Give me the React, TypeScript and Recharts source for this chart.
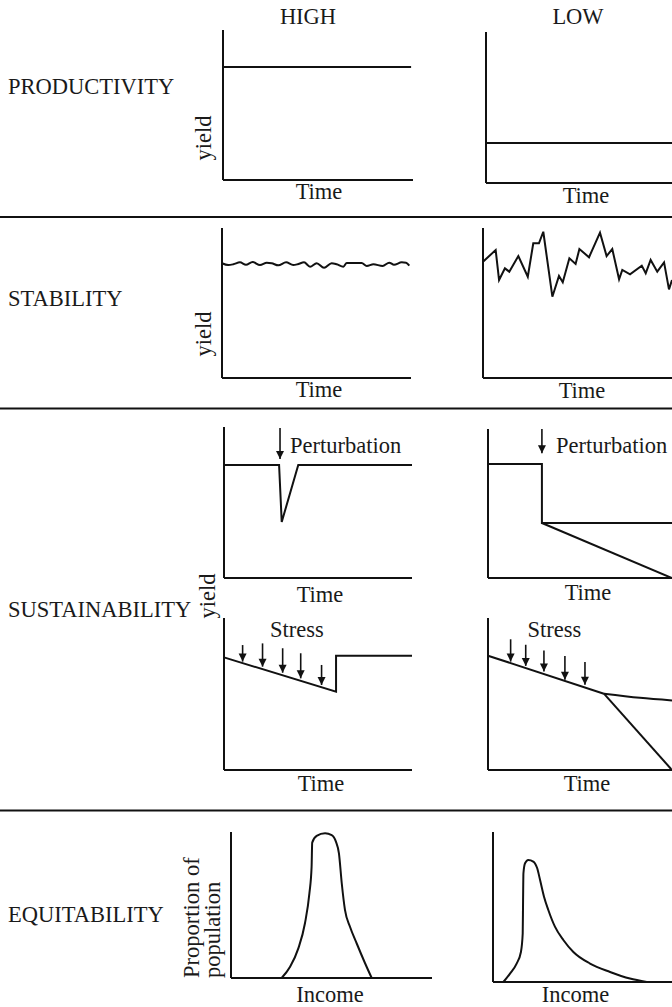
import React from 'react';
import { LineChart, Line, XAxis, YAxis } from 'recharts';

const INK = '#111';
const FONT = '"Liberation Serif", "DejaVu Serif", serif';
const FS = 22.5;

// PRODUCTIVITY
const prodHighT = [0, 99];
const prodHighY = [75.3, 75.3];
const prodLowT = [0, 100];
const prodLowY = [26.5, 26.5];

// STABILITY
const stabHighT = [0, 3.3, 6.0, 9.5, 12.7, 16.2, 20.1, 23.7, 26.3, 29.8, 33.9, 37.7, 40.4, 43.4, 46.6, 50.1, 54.0, 58.0, 60.7, 64.2, 66.0, 73.9, 76.6, 80.1, 85.0, 88.5, 91.0, 95.1, 97.4, 99.1];
const stabHighY = [76.5, 75.3, 75.8, 77.1, 75.5, 77.3, 75.3, 76.9, 76.5, 75.1, 77.1, 75.3, 76.0, 77.1, 74.2, 76.5, 73.5, 76.5, 75.8, 74.2, 76.7, 76.7, 74.7, 75.8, 74.7, 76.9, 75.5, 77.1, 76.9, 74.9];
const stabLowT = [0, 6.7, 8.5, 11.6, 13.9, 18.7, 23.7, 26.6, 29.6, 31.9, 36.7, 40.2, 42.2, 45.7, 49.0, 51.0, 56.1, 61.9, 65.4, 68.4, 72.0, 73.7, 77.8, 84.0, 86.1, 88.7, 92.2, 95.8, 98.4, 100];
const stabLowY = [77.5, 85.3, 65.3, 73.1, 70.9, 81.3, 67.5, 89.8, 89.8, 97.5, 54.2, 68.0, 63.8, 79.8, 76.0, 86.0, 80.5, 96.9, 81.3, 86.0, 65.8, 72.0, 69.1, 74.9, 69.8, 78.7, 70.9, 77.1, 59.1, 65.3];

// SUSTAINABILITY - perturbation
const pertHighT = [0, 29.3, 30.7, 39.5, 100];
const pertHighY = [74.8, 74.8, 37.1, 74.8, 74.8];
const pertHighArrowT = [29.8];
const pertHighArrowFrom = [99.3];
const pertHighArrowTo = [78.8];

const pertLowT = [0, 29.3, 29.3, 100];
const pertLowY = [76.5, 76.5, 36.9, 36.9];
const pertLowDeclineT = [29.3, 100];
const pertLowDeclineY = [36.9, 0];
const pertLowArrowT = [29.3];
const pertLowArrowFrom = [100];
const pertLowArrowTo = [83.7];

// SUSTAINABILITY - stress
const stressHighT = [0, 59.6, 59.6, 100];
const stressHighY = [74.1, 51.5, 75.2, 75.2];
const stressHighArrowT = [9.9, 20.5, 31.2, 40.8, 51.9];
const stressHighArrowFrom = [82.2, 83.3, 80.1, 76.8, 69.1];
const stressHighArrowTo = [71.3, 68.0, 64.0, 60.3, 55.9];

const stressLowT = [0, 63.0];
const stressLowY = [75.2, 50.2];
const stressLowRecoverT = [63.0, 82.6, 100];
const stressLowRecoverY = [50.2, 47.5, 45.8];
const stressLowCollapseT = [63.0, 100];
const stressLowCollapseY = [50.2, 0];
const stressLowArrowT = [12.3, 20.5, 30.4, 41.8, 52.7];
const stressLowArrowFrom = [86.0, 82.4, 78.7, 75.0, 71.0];
const stressLowArrowTo = [71.3, 68.5, 64.8, 59.3, 56.1];

// EQUITABILITY (income distribution)
const equiHighIncome = [25.2, 29.4, 33.5, 36.8, 39.0, 40.1, 40.4, 42.6, 46.8, 50.1, 52.2, 53.7, 55.1, 56.7, 59.2, 62.5, 66.7, 70.0];
const equiHighShare = [0, 7.7, 20.3, 37.5, 58.0, 76.2, 92.7, 97.3, 99.1, 97.9, 93.4, 85.4, 64.9, 46.6, 35.1, 23.8, 10.1, 0];
const equiLowIncome = [5.8, 9.5, 13.2, 15.6, 16.6, 16.8, 17.0, 17.9, 19.7, 22.5, 24.7, 26.3, 28.5, 30.9, 34.6, 39.3, 44.9, 54.2, 65.4, 76.5, 85.9];
const equiLowShare = [0, 5.6, 12.3, 20.0, 32.3, 54.6, 72.5, 79.2, 81.4, 80.3, 75.8, 68.0, 56.9, 48.0, 36.9, 28.0, 20.0, 12.3, 6.7, 2.3, 0];

type Pt = { t: number; y: number };
type Curve = 'linear' | 'monotone';

const zip = (t: number[], y: number[]): Pt[] => t.map((v, i) => ({ t: v, y: y[i] }));
const arrows = (t: number[], from: number[], to: number[]) =>
  t.map((v, i) => [{ t: v, y: from[i] }, { t: v, y: to[i] }]);

const axisLine = { stroke: INK, strokeWidth: 2 };

function Panel({ box, series, arrowList = [] }: {
  box: [number, number, number, number];
  series: { data: Pt[]; curve?: Curve }[];
  arrowList?: Pt[][];
}) {
  const [left, top, right, bottom] = box;
  const m = 6;
  const ax = 1; // thin axis bands so the axis lines get drawn
  return (
    <div style={{ position: 'absolute', left: left - m - ax, top: top - m }}>
      <LineChart
        width={right - left + 2 * m + ax}
        height={bottom - top + 2 * m + ax}
        margin={{ top: m, right: m, bottom: m, left: m }}
      >
        <XAxis type="number" dataKey="t" domain={[0, 100]} height={ax} tick={false} tickLine={false} axisLine={axisLine} />
        <YAxis type="number" domain={[0, 100]} width={ax} tick={false} tickLine={false} axisLine={axisLine} />
        {series.map((s, i) => (
          <Line
            key={'s' + i}
            data={s.data}
            dataKey="y"
            type={s.curve ?? 'linear'}
            stroke={INK}
            strokeWidth={2}
            dot={false}
            activeDot={false}
            isAnimationActive={false}
          />
        ))}
        {arrowList.map((a, i) => (
          <Line
            key={'a' + i}
            data={a}
            dataKey="y"
            type="linear"
            stroke={INK}
            strokeWidth={1.6}
            activeDot={false}
            isAnimationActive={false}
            dot={(p: any) =>
              p.index === 1 ? (
                <path
                  key={'h' + i}
                  d={`M${p.cx - 4},${p.cy - 8}L${p.cx + 4},${p.cy - 8}L${p.cx},${p.cy}Z`}
                  fill={INK}
                />
              ) : (
                <g key={'n' + i} />
              )
            }
          />
        ))}
      </LineChart>
    </div>
  );
}

function Txt({ x, y, children, anchor = 'middle', rotate = false }: {
  x: number; y: number; children: React.ReactNode; anchor?: 'start' | 'middle' | 'end'; rotate?: boolean;
}) {
  return (
    <text
      x={x}
      y={y}
      textAnchor={anchor}
      style={{ fontFamily: FONT, fontSize: FS }}
      fill="#1a1a1a"
      transform={rotate ? `rotate(-90 ${x} ${y})` : undefined}
    >
      {children}
    </text>
  );
}

export default function App() {
  return (
    <div style={{ position: 'absolute', left: 0, top: 0, width: 672, height: 1007, overflow: 'hidden', background: '#fff' }}>
      <Panel box={[223, 30, 413, 180]} series={[{ data: zip(prodHighT, prodHighY) }]} />
      <Panel box={[486, 32, 672, 183]} series={[{ data: zip(prodLowT, prodLowY) }]} />

      <Panel box={[222, 228, 411, 378]} series={[{ data: zip(stabHighT, stabHighY), curve: 'monotone' }]} />
      <Panel box={[483, 228, 672, 378]} series={[{ data: zip(stabLowT, stabLowY) }]} />

      <Panel
        box={[224, 427, 412, 578]}
        series={[{ data: zip(pertHighT, pertHighY) }]}
        arrowList={arrows(pertHighArrowT, pertHighArrowFrom, pertHighArrowTo)}
      />
      <Panel
        box={[488, 429, 672, 578]}
        series={[{ data: zip(pertLowT, pertLowY) }, { data: zip(pertLowDeclineT, pertLowDeclineY) }]}
        arrowList={arrows(pertLowArrowT, pertLowArrowFrom, pertLowArrowTo)}
      />

      <Panel
        box={[224, 618, 412, 770]}
        series={[{ data: zip(stressHighT, stressHighY) }]}
        arrowList={arrows(stressHighArrowT, stressHighArrowFrom, stressHighArrowTo)}
      />
      <Panel
        box={[488, 618, 672, 770]}
        series={[
          { data: zip(stressLowT, stressLowY) },
          { data: zip(stressLowRecoverT, stressLowRecoverY), curve: 'monotone' },
          { data: zip(stressLowCollapseT, stressLowCollapseY) },
        ]}
        arrowList={arrows(stressLowArrowT, stressLowArrowFrom, stressLowArrowTo)}
      />

      <Panel box={[231, 832, 432, 978]} series={[{ data: zip(equiHighIncome, equiHighShare), curve: 'monotone' }]} />
      <Panel box={[493, 832, 672, 982]} series={[{ data: zip(equiLowIncome, equiLowShare), curve: 'monotone' }]} />

      <svg width={672} height={1007} style={{ position: 'absolute', left: 0, top: 0, pointerEvents: 'none' }}>
        <Txt x={308} y={24}>HIGH</Txt>
        <Txt x={578} y={24}>LOW</Txt>

        <Txt x={8} y={94} anchor="start">PRODUCTIVITY</Txt>
        <Txt x={8} y={306} anchor="start">STABILITY</Txt>
        <Txt x={8} y={616.5} anchor="start">SUSTAINABILITY</Txt>
        <Txt x={8} y={922} anchor="start">EQUITABILITY</Txt>

        <line x1={0} x2={672} y1={217} y2={217} stroke={INK} strokeWidth={2} />
        <line x1={0} x2={672} y1={408.5} y2={408.5} stroke={INK} strokeWidth={2} />
        <line x1={0} x2={672} y1={810.5} y2={810.5} stroke={INK} strokeWidth={2} />

        <Txt x={211} y={138} rotate>yield</Txt>
        <Txt x={211} y={334} rotate>yield</Txt>
        <Txt x={215} y={596} rotate>yield</Txt>
        <Txt x={198.5} y={978} anchor="start" rotate>Proportion of</Txt>
        <Txt x={219.5} y={978} anchor="start" rotate>population</Txt>

        <Txt x={319} y={199}>Time</Txt>
        <Txt x={586} y={203}>Time</Txt>
        <Txt x={319} y={396.5}>Time</Txt>
        <Txt x={582} y={398}>Time</Txt>
        <Txt x={320} y={601.5}>Time</Txt>
        <Txt x={588} y={600}>Time</Txt>
        <Txt x={321} y={791}>Time</Txt>
        <Txt x={587} y={791}>Time</Txt>
        <Txt x={330} y={1001.5}>Income</Txt>
        <Txt x={575.5} y={1001.5}>Income</Txt>

        <Txt x={290} y={453} anchor="start">Perturbation</Txt>
        <Txt x={556} y={453} anchor="start">Perturbation</Txt>
        <Txt x={297} y={637}>Stress</Txt>
        <Txt x={554.5} y={637}>Stress</Txt>
      </svg>
    </div>
  );
}
